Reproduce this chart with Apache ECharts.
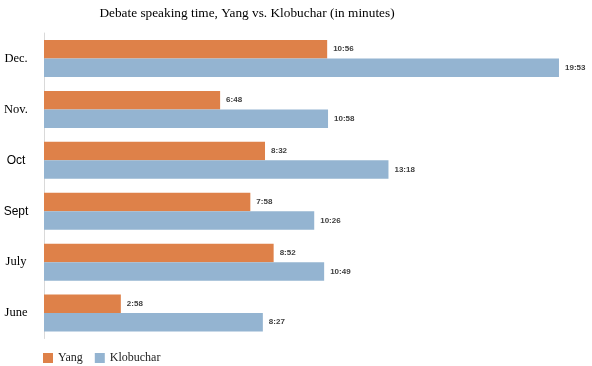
<!DOCTYPE html>
<html>
<head>
<meta charset="utf-8">
<script src="https://cdn.jsdelivr.net/npm/echarts@6/dist/echarts.min.js"></script>
<style>html,body{margin:0;padding:0;background:#fff}#c{width:592px;height:366px}</style>
</head>
<body>
<div id="c"></div>
<script>
var categories = ['Dec.', 'Nov.', 'Oct', 'Sept', 'July', 'June'];
var yangTimes = ['10:56', '6:48', '8:32', '7:58', '8:52', '2:58'];
var klobucharTimes = ['19:53', '10:58', '13:18', '10:26', '10:49', '8:27'];
var seriesNames = ['Yang', 'Klobuchar'];

function toMinutes(s) { var p = s.split(':'); return +p[0] + (+p[1]) / 60; }
var yangValues = yangTimes.map(toMinutes);
var klobucharValues = klobucharTimes.map(toMinutes);

var serifFont = "'Liberation Serif', serif";
var chart = echarts.init(document.getElementById('c'), null, {renderer: 'canvas'});
function mkLabel(times) {
  return {
    show: true, position: 'right', distance: 6,
    fontFamily: 'Liberation Sans', fontWeight: 'bold', fontSize: 8, color: '#404040',
    formatter: function (p) { return times[p.dataIndex]; }
  };
}
chart.setOption({
  animation: false,
  title: {
    text: 'Debate speaking time, Yang vs. Klobuchar (in minutes)',
    left: 242, top: 2, textAlign: 'center',
    textStyle: {fontFamily: serifFont, fontSize: 13.3, fontWeight: 'normal', color: '#000'}
  },
  legend: {
    data: seriesNames, left: 38, top: 347, itemWidth: 10, itemHeight: 10, itemGap: 12,
    icon: 'rect',
    textStyle: {fontFamily: serifFont, fontSize: 12, color: '#222'}
  },
  grid: {left: 44, top: 33, width: 518, height: 305.5, containLabel: false},
  xAxis: {type: 'value', min: 0, max: 20, show: false},
  yAxis: {
    type: 'category', data: categories, inverse: true,
    axisLine: {show: true, lineStyle: {color: '#d9d9d9', width: 1}},
    axisTick: {show: false},
    axisLabel: {
      margin: 28, align: 'center',
      formatter: function (v) { return (v === 'Oct' || v === 'Sept') ? '{s|' + v + '}' : '{r|' + v + '}'; },
      rich: {
        r: {fontFamily: serifFont, fontSize: 12.5, color: '#000'},
        s: {fontFamily: 'Liberation Sans', fontSize: 12, color: '#000'}
      }
    }
  },
  series: [
    {name: 'Yang', type: 'bar', data: yangValues, barWidth: 18.5, barGap: '0%', barCategoryGap: '27%',
     itemStyle: {color: '#DE8149'}, label: mkLabel(yangTimes)},
    {name: 'Klobuchar', type: 'bar', data: klobucharValues, barWidth: 18.5, barGap: '0%',
     itemStyle: {color: '#94B4D1'}, label: mkLabel(klobucharTimes)}
  ]
});
</script>
</body>
</html>
